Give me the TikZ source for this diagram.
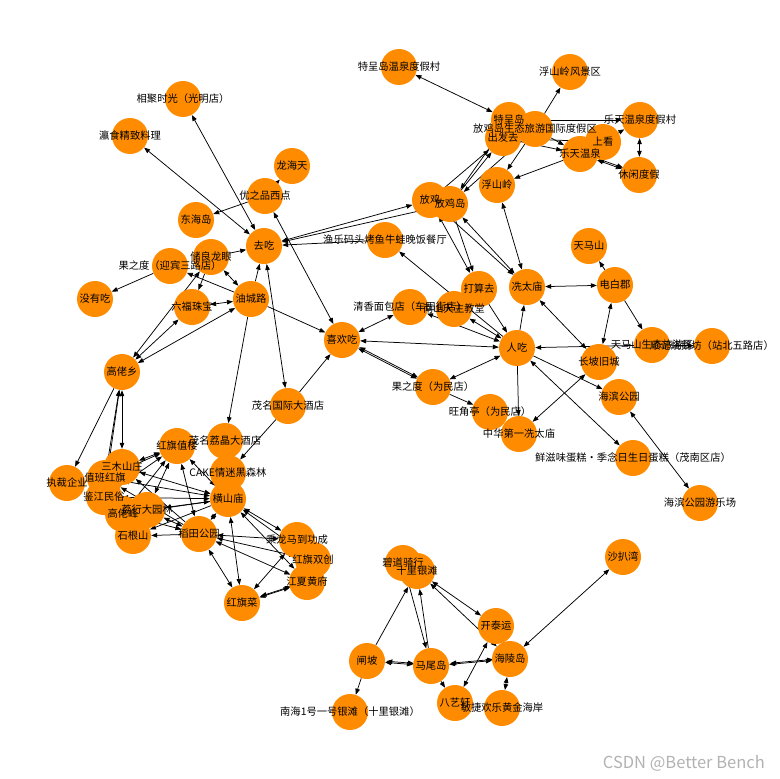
\documentclass[tikz,border=0pt]{standalone}
\usepackage{fontspec}
\setmainfont{Noto Sans CJK SC}
\usetikzlibrary{arrows.meta}
\definecolor{nodeor}{RGB}{255,140,0}
\pgfdeclarelayer{bg}\pgfdeclarelayer{fg}\pgfsetlayers{bg,main,fg}
\tikzset{
  dot/.style={circle,fill=nodeor,draw=none,minimum size=36pt,inner sep=0pt},
  lbl/.style={font=\fontsize{10.3}{12}\selectfont,inner sep=0pt,text=black},
  arr/.style={line width=0.75pt,-{Triangle[length=6pt,width=4.5pt]}},
  biarr/.style={line width=0.75pt,{Triangle[length=6pt,width=4.5pt]}-{Triangle[length=6pt,width=4.5pt]}},
  twin/.style={transform canvas={shift={(1.2pt,1.2pt)}}}
}
\newcommand\NN[4]{\node[dot] (#1) at (#2,#3) {};\begin{pgfonlayer}{fg}\node[lbl] at (#1) {#4};\end{pgfonlayer}}
\begin{document}
\begin{tikzpicture}[x=1pt,y=-1pt]
\useasboundingbox (0,0) rectangle (779,779);
% nodes
\NN{tcwq}{399}{67}{特呈岛温泉度假村}
\NN{fslfj}{570}{72}{浮山岭风景区}
\NN{jjsg}{183}{99}{相聚时光（光明店）}
\NN{ysjz}{130}{136}{瀛食精致料理}
\NN{tcd}{509}{120}{特呈岛}
\NN{cfq}{503}{138}{出发去}
\NN{ltdjc}{640}{120}{乐天温泉度假村}
\NN{sk}{603}{142}{上看}
\NN{ltwq}{580}{154}{乐天温泉}
\NN{fjdjq}{535}{129}{放鸡岛生态旅游国际度假区}
\NN{xxdj}{639}{175}{休闲度假}
\NN{fsl}{497}{185}{浮山岭}
\NN{lht}{292}{166}{龙海天}
\NN{yzp}{265}{196}{优之品西点}
\NN{dhd}{196}{220}{东海岛}
\NN{fj}{430}{200}{放鸡}
\NN{fjd}{450}{204}{放鸡岛}
\NN{qc}{264}{246}{去吃}
\NN{ylmt}{385}{240}{渔乐码头烤鱼牛蛙晚饭餐厅}
\NN{gzdyb}{170}{266}{果之度（迎宾三路店）}
\NN{clly}{211}{257}{储良龙眼}
\NN{myc}{95}{299}{没有吃}
\NN{lfzb}{192}{307}{六福珠宝}
\NN{ycl}{251}{299}{油城路}
\NN{dsq}{479}{289}{打算去}
\NN{xtm}{527}{287}{冼太庙}
\NN{tms}{589}{246}{天马山}
\NN{dbj}{615}{285}{电白郡}
\NN{qxmb}{410}{307}{清香面包店（车田街店）}
\NN{tzjt}{454}{309}{南山天主教堂}
\NN{xhc}{342}{340}{喜欢吃}
\NN{rc}{517}{348}{人吃}
\NN{cpjc}{599}{362}{长坡旧城}
\NN{tmsst}{652}{345}{天马山生态旅游区}
\NN{sef}{712}{346}{顺记烧鹅坊（站北五路店）}
\NN{glx}{122}{372}{高佬乡}
\NN{gzdwm}{433}{387}{果之度（为民店）}
\NN{hbgy}{619}{397}{海滨公园}
\NN{mmgj}{288}{406}{茂名国际大酒店}
\NN{wjt}{490}{412}{旺角亭（为民店）}
\NN{zhdy}{519}{434}{中华第一冼太庙}
\NN{hqzl}{177}{446}{红旗值楼}
\NN{mmlj}{225}{441}{茂名荔晶大酒店}
\NN{xzw}{633}{458}{鲜滋味蛋糕・季念日生日蛋糕（茂南区店）}
\NN{cake}{228}{473}{CAKE情迷黑森林}
\NN{smsz}{122}{467}{三木山庄}
\NN{zcqy}{67}{483}{执裁企业}
\NN{zbhq}{105}{478}{值班红旗}
\NN{jjms}{104}{497}{鉴江民俗}
\NN{hsm}{228}{499}{横山庙}
\NN{glf}{123}{514}{高佬峰}
\NN{lxdyl}{147}{510}{荔行大园林}
\NN{hbylc}{700}{503}{海滨公园游乐场}
\NN{sgs}{133}{536}{石根山}
\NN{dtgy}{199}{534}{稻田公园}
\NN{clmd}{297}{540}{乘龙马到功成}
\NN{hqsc}{313}{560}{红旗双创}
\NN{jxhf}{307}{582}{江夏黄府}
\NN{hqc}{242}{603}{红旗菜}
\NN{bdqx}{403}{563}{碧道骑行}
\NN{slyt}{417}{571}{十里银滩}
\NN{sbw}{623}{557}{沙扒湾}
\NN{kty}{496}{626}{开泰运}
\NN{zp}{367}{661}{闸坡}
\NN{mwd}{431}{666}{马尾岛}
\NN{hld}{510}{659}{海陵岛}
\NN{byx}{455}{703}{八艺轩}
\NN{mjhl}{502}{708}{敏捷欢乐黄金海岸}
\NN{nh}{350}{712}{南海1号一号银滩（十里银滩）}
\node[font=\fontsize{16.5}{18}\selectfont,text=black!30,anchor=east,inner sep=0pt] (wm) at (765,763) {CSDN @Better Bench};
% edges
\begin{pgfonlayer}{bg}
\draw[biarr] (tcwq) -- (tcd);
\draw[arr] (fjdjq) -- (fslfj);
\draw[arr] (tcd) -- (ltdjc);
\draw[arr] (cfq) -- (sk);
\draw[arr] (sk) -- (ltdjc);
\draw[arr] (fjdjq) -- (ltwq);
\draw[arr] (cfq) -- (ltwq);
\draw[biarr] (ltdjc) -- (xxdj);
\draw[biarr] (ltwq) -- (xxdj);
\draw[biarr,twin] (ltwq) -- (xxdj);
\draw[arr] (ltwq) -- (fsl);
\draw[arr] (fjdjq) -- (fsl);
\draw[arr] (fj) -- (cfq);
\draw[arr] (fjd) -- (cfq);
\draw[arr] (tcd) -- (fjd);
\draw[arr] (fjdjq) -- (fjd);
\draw[biarr] (qc) -- (fj);
\draw[biarr] (qc) -- (fjd);
\draw[arr] (ylmt) -- (qc);
\draw[biarr] (fj) -- (dsq);
\draw[arr] (fjd) -- (dsq);
\draw[biarr] (fjd) -- (xtm);
\draw[arr] (fj) -- (xtm);
\draw[biarr] (fsl) -- (xtm);
\draw[biarr] (xtm) -- (dbj);
\draw[arr] (dbj) -- (tms);
\draw[biarr] (dbj) -- (cpjc);
\draw[arr] (dbj) -- (tmsst);
\draw[biarr] (xtm) -- (cpjc);
\draw[arr] (rc) -- (xtm);
\draw[arr] (tmsst) -- (rc);
\draw[arr] (tmsst) -- (sef);
\draw[arr] (rc) -- (hbgy);
\draw[biarr] (rc) -- (xzw);
\draw[biarr] (cpjc) -- (zhdy);
\draw[arr] (rc) -- (zhdy);
\draw[biarr] (hbgy) -- (hbylc);
\draw[biarr] (rc) -- (gzdwm);
\draw[arr] (gzdwm) -- (wjt);
\draw[biarr] (xhc) -- (gzdwm);
\draw[biarr,twin] (xhc) -- (gzdwm);
\draw[biarr] (xhc) -- (rc);
\draw[biarr] (xhc) -- (qxmb);
\draw[biarr] (qxmb) -- (rc);
\draw[arr] (rc) -- (ylmt);
\draw[biarr] (tzjt) -- (rc);
\draw[arr] (dsq) -- (rc);
\draw[biarr] (yzp) -- (xhc);
\draw[biarr] (qc) -- (jjsg);
\draw[biarr] (qc) -- (ysjz);
\draw[arr] (yzp) -- (lht);
\draw[arr] (yzp) -- (dhd);
\draw[arr] (clly) -- (qc);
\draw[arr] (ycl) -- (qc);
\draw[biarr] (qc) -- (mmgj);
\draw[arr] (gzdyb) -- (myc);
\draw[biarr] (clly) -- (ycl);
\draw[arr] (clly) -- (lfzb);
\draw[arr] (ycl) -- (gzdyb);
\draw[biarr] (lfzb) -- (ycl);
\draw[biarr] (ycl) -- (glx);
\draw[biarr] (lfzb) -- (glx);
\draw[biarr] (clly) -- (glx);
\draw[arr] (ycl) -- (xhc);
\draw[arr] (ycl) -- (mmlj);
\draw[arr] (mmgj) -- (cake);
\draw[arr] (mmgj) -- (xhc);
\draw[arr] (glx) -- (zcqy);
\draw[arr] (zbhq) -- (glx);
\draw[biarr] (glx) -- (smsz);
\draw[arr] (jjms) -- (glx);
\draw[biarr] (smsz) -- (hqzl);
\draw[arr] (zbhq) -- (hqzl);
\draw[arr] (jjms) -- (hqzl);
\draw[biarr] (lxdyl) -- (hqzl);
\draw[arr] (glf) -- (hqzl);
\draw[biarr] (hqzl) -- (dtgy);
\draw[biarr] (hqzl) -- (hsm);
\draw[biarr] (hsm) -- (smsz);
\draw[biarr] (hsm) -- (zbhq);
\draw[biarr] (hsm) -- (jjms);
\draw[arr] (hsm) -- (glf);
\draw[biarr] (hsm) -- (lxdyl);
\draw[biarr] (dtgy) -- (lxdyl);
\draw[biarr] (dtgy) -- (glf);
\draw[arr] (dtgy) -- (sgs);
\draw[arr] (hsm) -- (sgs);
\draw[arr] (dtgy) -- (zbhq);
\draw[arr] (dtgy) -- (smsz);
\draw[biarr] (hsm) -- (dtgy);
\draw[biarr] (hsm) -- (hqc);
\draw[biarr] (hsm) -- (clmd);
\draw[biarr] (hsm) -- (hqsc);
\draw[biarr] (hsm) -- (jxhf);
\draw[biarr] (dtgy) -- (clmd);
\draw[biarr] (dtgy) -- (hqsc);
\draw[biarr] (dtgy) -- (jxhf);
\draw[biarr] (dtgy) -- (hqc);
\draw[biarr] (hqc) -- (clmd);
\draw[biarr] (hqc) -- (jxhf);
\draw[biarr,twin] (hqc) -- (jxhf);
\draw[arr] (zp) -- (slyt);
\draw[arr] (bdqx) -- (mwd);
\draw[arr] (mwd) -- (slyt);
\draw[biarr] (slyt) -- (kty);
\draw[biarr] (hld) -- (slyt);
\draw[biarr] (zp) -- (mwd);
\draw[biarr,twin] (zp) -- (mwd);
\draw[biarr] (mwd) -- (hld);
\draw[biarr,twin] (mwd) -- (hld);
\draw[arr] (mwd) -- (byx);
\draw[biarr] (byx) -- (kty);
\draw[arr] (kty) -- (hld);
\draw[biarr] (hld) -- (mjhl);
\draw[arr] (zp) -- (nh);
\draw[biarr] (sbw) -- (hld);
\end{pgfonlayer}
\end{tikzpicture}
\end{document}
